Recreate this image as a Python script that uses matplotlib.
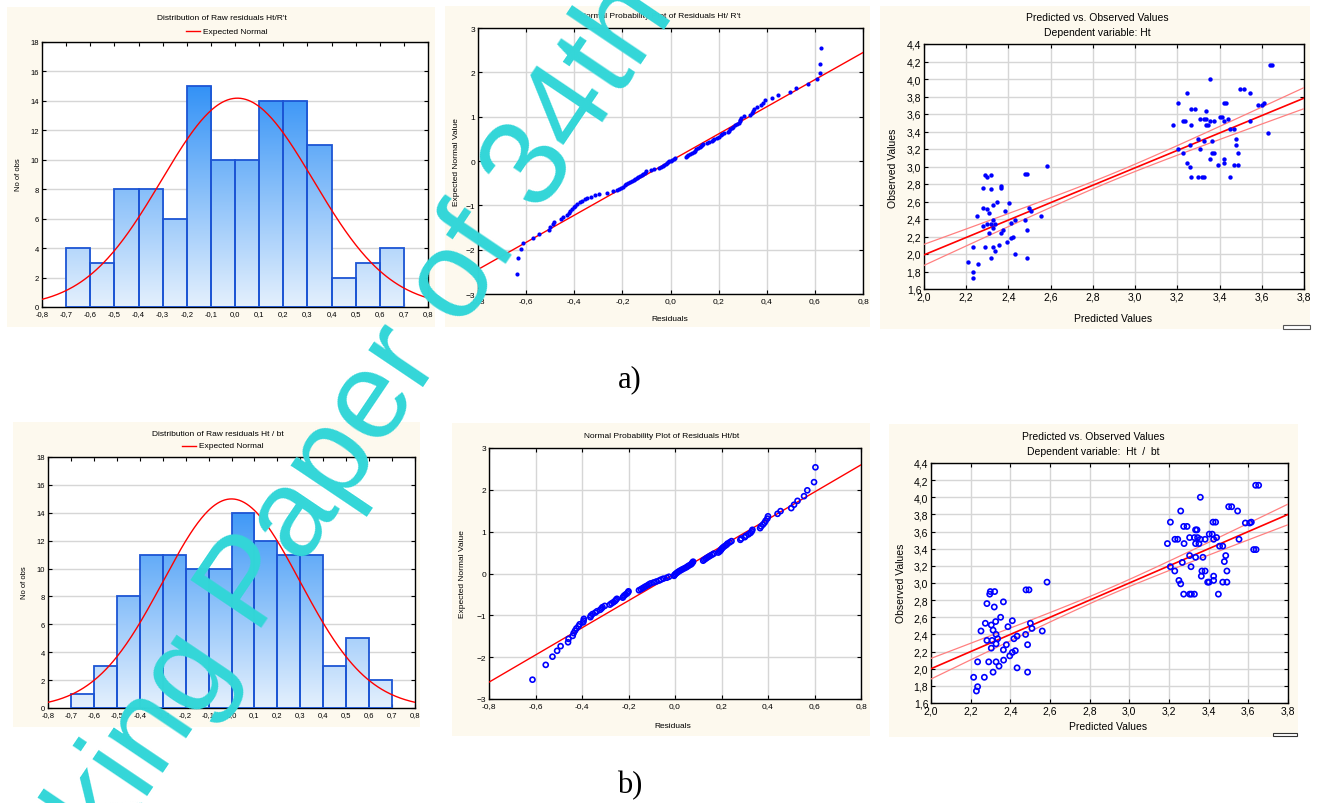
#residual diagnostics for the two height models, a) Ht/R't and b) Ht/bt
import numpy as np
import matplotlib
matplotlib.use('Agg')
import matplotlib.pyplot as plt
from matplotlib.colors import LinearSegmentedColormap
from matplotlib.patches import Rectangle
from matplotlib.ticker import FuncFormatter
from statistics import NormalDist

# ---- histogram data ----
bin_left = [-0.7, -0.6, -0.5, -0.4, -0.3, -0.2, -0.1, 0.0, 0.1, 0.2, 0.3, 0.4, 0.5, 0.6]
bin_width = 0.1
counts_a = [4, 3, 8, 8, 6, 15, 10, 10, 14, 14, 11, 2, 3, 4]
counts_b = [1, 3, 8, 11, 11, 10, 10, 14, 12, 11, 11, 3, 5, 2]
norm_mean_a, norm_sd_a = 0.01, 0.315
norm_mean_b, norm_sd_b = 0.0, 0.298

# ---- normal probability plot data (sorted residuals) ----
resid_a = [-0.640, -0.633, -0.623, -0.615, -0.573, -0.547, -0.505, -0.499, -0.487, -0.483,
           -0.455, -0.447, -0.432, -0.423, -0.416, -0.410, -0.401, -0.398, -0.390, -0.376,
           -0.368, -0.357, -0.345, -0.330, -0.312, -0.296, -0.264, -0.239, -0.224, -0.215,
           -0.205, -0.197, -0.190, -0.183, -0.177, -0.170, -0.160, -0.153, -0.146, -0.140,
           -0.134, -0.128, -0.120, -0.113, -0.106, -0.100, -0.080, -0.068, -0.048, -0.041,
           -0.031, -0.025, -0.018, -0.014, -0.010, -0.005, 0.000, 0.006, 0.013, 0.020,
           0.063, 0.068, 0.072, 0.080, 0.090, 0.097, 0.101, 0.106, 0.115, 0.122,
           0.127, 0.130, 0.134, 0.150, 0.160, 0.172, 0.178, 0.182, 0.192, 0.200,
           0.210, 0.215, 0.222, 0.240, 0.243, 0.248, 0.255, 0.260, 0.268, 0.275,
           0.285, 0.288, 0.290, 0.295, 0.305, 0.330, 0.337, 0.342, 0.348, 0.360,
           0.378, 0.383, 0.392, 0.422, 0.447, 0.495, 0.523, 0.572, 0.607, 0.623,
           0.623, 0.624]
resid_b = [-0.613, -0.556, -0.527, -0.507, -0.492, -0.460, -0.458, -0.440, -0.436, -0.430,
           -0.424, -0.415, -0.410, -0.395, -0.393, -0.392, -0.364, -0.362, -0.355, -0.343,
           -0.335, -0.322, -0.316, -0.312, -0.302, -0.280, -0.273, -0.265, -0.258, -0.254,
           -0.250, -0.225, -0.222, -0.218, -0.212, -0.206, -0.202, -0.200, -0.155, -0.147,
           -0.140, -0.133, -0.126, -0.118, -0.112, -0.105, -0.092, -0.080, -0.068, -0.060,
           -0.050, -0.035, -0.026, -0.004, -0.002, 0.002, 0.007, 0.012, 0.018, 0.025,
           0.032, 0.040, 0.048, 0.054, 0.060, 0.068, 0.072, 0.075, 0.078, 0.121,
           0.126, 0.132, 0.138, 0.145, 0.152, 0.160, 0.167, 0.186, 0.192, 0.196,
           0.199, 0.203, 0.208, 0.215, 0.222, 0.226, 0.235, 0.243, 0.281, 0.285,
           0.300, 0.305, 0.316, 0.325, 0.330, 0.333, 0.366, 0.370, 0.378, 0.385,
           0.390, 0.397, 0.400, 0.441, 0.454, 0.500, 0.512, 0.527, 0.555, 0.569,
           0.598, 0.604]
line_sd_a = 0.327
line_sd_b = 0.308

# ---- predicted vs observed ----
pred_a = [2.210, 2.231, 2.231, 2.231, 2.251, 2.258, 2.278, 2.278, 2.278, 2.288, 2.297, 2.288,
          2.297, 2.297, 2.307, 2.307, 2.316, 2.316, 2.316, 2.316, 2.326, 2.326, 2.326, 2.326,
          2.335, 2.335, 2.345, 2.354, 2.363, 2.363, 2.363, 2.373, 2.382, 2.392, 2.401, 2.411,
          2.411, 2.420, 2.430, 2.430, 2.477, 2.477, 2.487, 2.487, 2.487, 2.498, 2.507, 2.553,
          2.582,
          3.180, 3.201, 3.201, 3.228, 3.237, 3.228, 3.248, 3.248, 3.258, 3.258, 3.267, 3.267,
          3.267, 3.286, 3.296, 3.296, 3.307, 3.307, 3.316, 3.324, 3.324, 3.326, 3.335, 3.335,
          3.335, 3.345, 3.353, 3.353, 3.353, 3.362, 3.362, 3.372, 3.372, 3.391, 3.400, 3.410,
          3.419, 3.419, 3.419, 3.419, 3.429, 3.438, 3.448, 3.448, 3.467, 3.467, 3.476, 3.476,
          3.485, 3.485, 3.495, 3.514, 3.542, 3.542, 3.580, 3.599, 3.609, 3.628, 3.637, 3.647]
obs_a = [1.91, 1.80, 1.73, 2.08, 2.44, 1.89, 2.76, 2.53, 2.32, 2.90, 2.88, 2.08,
         2.51, 2.34, 2.47, 2.24, 2.90, 2.74, 2.34, 1.96, 2.56, 2.39, 2.30, 2.08,
         2.34, 2.03, 2.60, 2.10, 2.78, 2.76, 2.24, 2.28, 2.49, 2.14, 2.58, 2.35,
         2.18, 2.20, 2.39, 2.00, 2.39, 2.92, 2.92, 2.28, 1.96, 2.53, 2.49, 2.44,
         3.01,
         3.47, 3.73, 3.20, 3.52, 3.52, 3.15, 3.84, 3.04, 3.25, 2.99, 3.66, 3.47,
         2.88, 3.66, 3.31, 2.88, 3.54, 3.20, 2.88, 3.29, 2.88, 3.54, 3.64, 3.54,
         3.47, 3.47, 4.00, 3.52, 3.09, 3.29, 3.15, 3.52, 3.15, 3.02, 3.57, 3.57,
         3.52, 3.09, 3.04, 3.73, 3.73, 3.54, 3.43, 2.88, 3.43, 3.02, 3.31, 3.25,
         3.15, 3.02, 3.89, 3.89, 3.84, 3.52, 3.70, 3.70, 3.73, 3.38, 4.16, 4.16]
pred_b = [2.215, 2.235, 2.229, 2.235, 2.252, 2.269, 2.274, 2.282, 2.282, 2.291, 2.296, 2.299,
          2.304, 2.304, 2.308, 2.313, 2.313, 2.319, 2.321, 2.326, 2.328, 2.328, 2.328, 2.336,
          2.343, 2.351, 2.365, 2.365, 2.366, 2.380, 2.388, 2.397, 2.410, 2.410, 2.418, 2.425,
          2.434, 2.434, 2.477, 2.479, 2.494, 2.487, 2.487, 2.501, 2.509, 2.561, 2.585,
          3.192, 3.207, 3.207, 3.229, 3.230, 3.244, 3.250, 3.259, 3.259, 3.267, 3.274, 3.276,
          3.274, 3.291, 3.304, 3.304, 3.311, 3.304, 3.313, 3.328, 3.328, 3.334, 3.341, 3.334,
          3.334, 3.344, 3.351, 3.358, 3.358, 3.366, 3.363, 3.371, 3.382, 3.382, 3.395, 3.402,
          3.403, 3.418, 3.425, 3.425, 3.425, 3.422, 3.435, 3.440, 3.449, 3.455, 3.471, 3.471,
          3.479, 3.486, 3.492, 3.492, 3.501, 3.516, 3.546, 3.553, 3.585, 3.607, 3.615, 3.627,
          3.639, 3.637, 3.652]
obs_b = [1.90, 1.79, 1.74, 2.08, 2.44, 1.90, 2.53, 2.76, 2.33, 2.08, 2.87, 2.90,
         2.51, 2.24, 2.33, 2.45, 1.96, 2.72, 2.90, 2.55, 2.40, 2.29, 2.08, 2.35,
         2.03, 2.60, 2.78, 2.22, 2.10, 2.28, 2.49, 2.15, 2.56, 2.19, 2.35, 2.21,
         2.38, 2.01, 2.40, 2.92, 2.92, 2.28, 1.96, 2.53, 2.47, 2.44, 3.01,
         3.46, 3.71, 3.19, 3.14, 3.51, 3.51, 3.03, 3.84, 2.99, 3.24, 3.66, 3.46,
         2.87, 3.66, 3.32, 3.53, 3.19, 2.87, 2.87, 3.53, 2.87, 3.62, 3.62, 3.46,
         3.30, 3.53, 3.46, 4.00, 3.51, 3.14, 3.08, 3.30, 3.14, 3.51, 3.01, 3.01,
         3.57, 3.57, 3.51, 3.08, 3.03, 3.71, 3.71, 3.53, 2.87, 3.43, 3.43, 3.01,
         3.25, 3.32, 3.14, 3.01, 3.89, 3.89, 3.84, 3.51, 3.70, 3.70, 3.71, 3.39,
         3.39, 4.14, 4.14]
reg_a = dict(b0=0.0, b1=0.995, xm=2.9, se0=0.04, se1=0.126)
reg_b = dict(b0=0.0, b1=1.0, xm=2.9, se0=0.04, se1=0.126)

W, H = 1318, 804
cream = '#fdf9ee'
blue = '#0000ff'
grid_c = '#d6d6d6'
font = 'Liberation Sans'


def box(x0, y0, x1, y1):
    return [x0 / W, 1 - y1 / H, (x1 - x0) / W, (y1 - y0) / H]


def T(x, y, s, **kw):
    kw.setdefault('ha', 'center')
    kw.setdefault('va', 'center')
    kw.setdefault('family', font)
    fig.text(x / W, 1 - y / H, s, **kw)


def comma(fmt):
    return FuncFormatter(lambda v, p: (fmt % (round(v, 3) + 0.0)).replace('.', ','))


def panel_bg(x0, y0, x1, y1):
    fig.add_artist(Rectangle((x0 / W, 1 - y1 / H), (x1 - x0) / W, (y1 - y0) / H,
                             transform=fig.transFigure, facecolor=cream,
                             edgecolor='none', zorder=-5))


def style(ax, ls):
    for s in ax.spines.values():
        s.set_linewidth(1.0)
        s.set_color('black')
    ax.tick_params(direction='in', length=3, top=True, right=True, labelsize=ls, pad=2,
                   width=0.8)
    for lab in ax.get_xticklabels() + ax.get_yticklabels():
        lab.set_family(font)


grad_cmap = LinearSegmentedColormap.from_list('g', ['#e4f0fd', '#288cf6'])


def histogram(rect, counts, mu, sd, title, ty, ly, tx):
    ax = fig.add_axes(box(*rect))
    ax.set_facecolor('white')
    bars = ax.bar(bin_left, counts, width=bin_width, align='edge', facecolor='none',
                  edgecolor='#1c55d4', linewidth=1.3, zorder=3)
    grad = np.linspace(0, 18, 256)[:, None]
    for b in bars:
        im = ax.imshow(grad, extent=[-0.8, 0.8, 0, 18], origin='lower', aspect='auto',
                       cmap=grad_cmap, vmin=0, vmax=16, zorder=2)
        im.set_clip_path(b)
    n = sum(counts)
    xs = np.linspace(-0.8, 0.8, 300)
    ys = n * bin_width * np.exp(-0.5 * ((xs - mu) / sd) ** 2) / (sd * np.sqrt(2 * np.pi))
    ax.plot(xs, ys, color='red', lw=1.0, zorder=4)
    ax.set_xlim(-0.8, 0.8)
    ax.set_ylim(0, 18)
    ax.set_xticks(np.round(np.arange(-0.8, 0.81, 0.1), 1))
    ax.set_yticks(range(0, 19, 2))
    ax.xaxis.set_major_formatter(comma('%.1f'))
    ax.yaxis.grid(True, color=grid_c, lw=1.0, zorder=0)
    ax.set_axisbelow(True)
    style(ax, 5.5)
    T(tx, ty, title, fontsize=6)
    fig.add_artist(plt.Line2D([(tx - 36) / W, (tx - 22) / W], [1 - ly / H, 1 - ly / H],
                              color='red', lw=1.0, transform=fig.transFigure))
    T(tx - 19, ly, 'Expected Normal', fontsize=6, ha='left')
    return ax


def normprob(rect, resid, sd, filled, title, ty, tx):
    ax = fig.add_axes(box(*rect))
    n = len(resid)
    z = [NormalDist().inv_cdf((i + 1 - 0.375) / (n + 0.25)) for i in range(n)]
    xs = np.array([-0.8, 0.8])
    ax.plot(xs, xs / sd, color='red', lw=1.0, zorder=3)
    if filled:
        ax.scatter(resid, z, s=9, color=blue, zorder=4, linewidths=0)
    else:
        ax.scatter(resid, z, s=13, facecolors='none', edgecolors=blue, linewidths=1.2,
                   zorder=4)
    ax.set_xlim(-0.8, 0.8)
    ax.set_ylim(-3, 3)
    ax.set_xticks(np.round(np.arange(-0.8, 0.81, 0.2), 1))
    ax.set_yticks(range(-3, 4))
    ax.xaxis.set_major_formatter(comma('%.1f'))
    ax.grid(True, color=grid_c, lw=1.0)
    ax.set_axisbelow(True)
    style(ax, 6)
    T(tx, ty, title, fontsize=6)
    return ax


def predobs(rect, pred, obs, reg, filled, title2, ty, tx):
    ax = fig.add_axes(box(*rect))
    xs = np.linspace(2.0, 3.8, 100)
    fit = reg['b0'] + reg['b1'] * xs
    hw = np.sqrt(reg['se0'] ** 2 + (reg['se1'] * (xs - reg['xm'])) ** 2)
    ax.plot(xs, fit + hw, color='#ff8080', lw=0.9, zorder=3)
    ax.plot(xs, fit - hw, color='#ff8080', lw=0.9, zorder=3)
    ax.plot(xs, fit, color='red', lw=1.2, zorder=3)
    if filled:
        ax.scatter(pred, obs, s=10, color=blue, zorder=4, linewidths=0)
    else:
        ax.scatter(pred, obs, s=14, facecolors='none', edgecolors=blue, linewidths=1.2,
                   zorder=4)
    ax.set_xlim(2.0, 3.8)
    ax.set_ylim(1.6, 4.4)
    ax.set_xticks(np.round(np.arange(2.0, 3.81, 0.2), 1))
    ax.set_yticks(np.round(np.arange(1.6, 4.41, 0.2), 1))
    ax.xaxis.set_major_formatter(comma('%.1f'))
    ax.yaxis.set_major_formatter(comma('%.1f'))
    ax.grid(True, color=grid_c, lw=1.0)
    ax.set_axisbelow(True)
    style(ax, 7.5)
    T(tx, ty, 'Predicted vs. Observed Values', fontsize=7.5)
    T(tx, ty + 15, title2, fontsize=7.5)
    return ax


fig = plt.figure(figsize=(W / 100, H / 100), dpi=100)
fig.patch.set_facecolor('white')

# panel backgrounds
panel_bg(7, 8, 435, 328)
panel_bg(445, 7, 870, 328)
panel_bg(880, 7, 1310, 330)
panel_bg(13, 423, 420, 728)
panel_bg(452, 424, 870, 737)
panel_bg(889, 425, 1298, 738)

# a)
histogram((42, 43, 428, 308), counts_a, norm_mean_a, norm_sd_a,
          "Distribution of Raw residuals Ht/R't", 19, 32, 222)
T(18, 175, 'No of obs', fontsize=5.5, rotation=90)
normprob((478, 29, 863, 295), resid_a, line_sd_a, True,
         "Normal Probability Plot of Residuals Ht/ R't", 17, 660)
T(457, 162, 'Expected Normal Value', fontsize=6, rotation=90)
T(670, 320, 'Residuals', fontsize=6)
predobs((924, 45, 1304, 290), pred_a, obs_a, reg_a, True, 'Dependent variable: Ht', 18, 1097)
T(893, 168, 'Observed Values', fontsize=7.5, rotation=90)
T(1113, 319, 'Predicted Values', fontsize=7.5)
fig.add_artist(Rectangle((1283 / W, 1 - 330 / H), 27 / W, 4 / H, transform=fig.transFigure,
                         facecolor='white', edgecolor='#555555', lw=0.8))

# b)
histogram((48, 458, 415, 709), counts_b, norm_mean_b, norm_sd_b,
          'Distribution of Raw residuals Ht / bt', 435, 447, 218)
T(24, 583, 'No of obs', fontsize=5.5, rotation=90)
normprob((489, 449, 861, 700), resid_b, line_sd_b, False,
         'Normal Probability Plot of Residuals Ht/bt', 437, 662)
T(463, 574, 'Expected Normal Value', fontsize=6, rotation=90)
T(673, 727, 'Residuals', fontsize=6)
predobs((931, 464, 1288, 704), pred_b, obs_b, reg_b, False, 'Dependent variable:  Ht  /  bt',
        437, 1093)
T(901, 583, 'Observed Values', fontsize=7.5, rotation=90)
T(1108, 727, 'Predicted Values', fontsize=7.5)
fig.add_artist(Rectangle((1273 / W, 1 - 737 / H), 24 / W, 3 / H, transform=fig.transFigure,
                         facecolor='white', edgecolor='#333333', lw=0.8))

T(630, 380, 'a)', fontsize=22, family='Liberation Serif')
T(630, 786, 'b)', fontsize=22, family='Liberation Serif')

# watermark
fig.text(-19 / W, 1 - 1042 / H, 'Working Paper of 34th International Conference',
         rotation=56, rotation_mode='anchor', ha='left', va='baseline',
         fontsize=90, color='#33d6d8', family=font, zorder=50)

fig.savefig('out.png', dpi=100)
